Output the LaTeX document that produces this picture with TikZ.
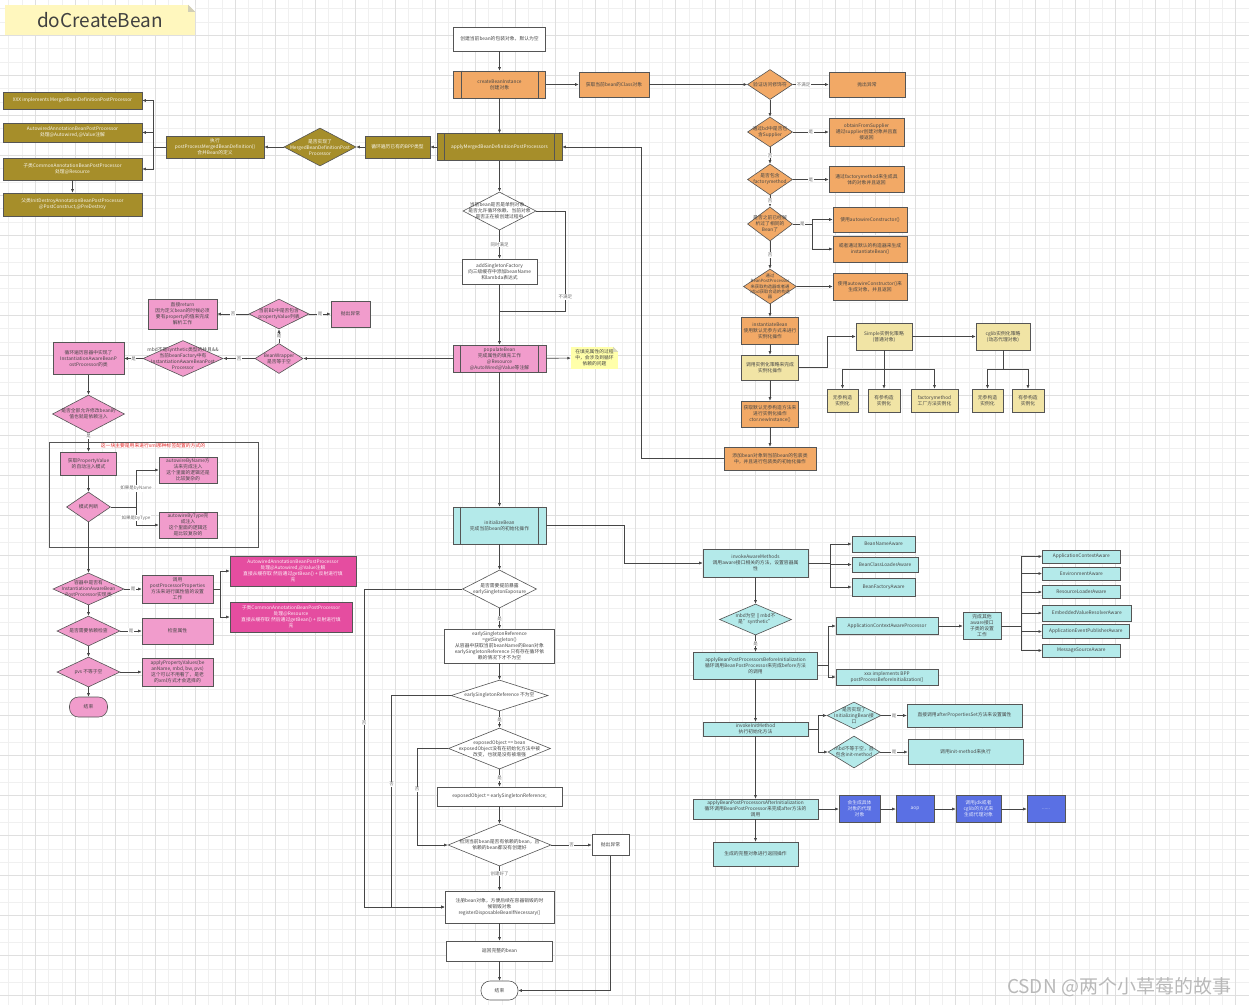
\documentclass[tikz,border=0pt]{standalone}
\usepackage{fontspec}
\setmainfont{Noto Sans CJK SC}
\XeTeXlinebreaklocale "zh"
\usetikzlibrary{shapes.geometric,arrows.meta,positioning}

\definecolor{orangeC}{RGB}{242,169,102}
\definecolor{oliveC}{RGB}{166,142,42}
\definecolor{pinkC}{RGB}{241,156,204}
\definecolor{magC}{RGB}{229,77,160}
\definecolor{yelC}{RGB}{241,228,165}
\definecolor{noteC}{RGB}{255,255,170}
\definecolor{titleC}{RGB}{255,247,190}
\definecolor{cyanC}{RGB}{180,234,234}
\definecolor{blueC}{RGB}{90,112,228}
\definecolor{borderC}{RGB}{85,85,85}
\definecolor{lineC}{RGB}{70,70,70}
\definecolor{textC}{RGB}{70,70,70}
\definecolor{labelC}{RGB}{110,110,110}
\definecolor{redC}{RGB}{230,40,40}

\begin{document}
\begin{tikzpicture}[
x=1pt,y=-1pt,
>={Latex[length=3.5pt,width=3pt]},
every node/.style={font=\fontsize{4.8}{6}\selectfont, text=textC},
box/.style={
  draw=borderC,
  line width=0.6pt,
  rectangle,
  align=center,
  inner sep=0.8pt
  },
obox/.style={box, fill=orangeC},
olbox/.style={box, fill=oliveC, text=white!92!oliveC},
pbox/.style={box, fill=pinkC},
mbox/.style={box, fill=magC, text=white!92!magC},
ybox/.style={box, fill=yelC},
cbox/.style={box, fill=cyanC},
bbox/.style={box, fill=blueC, text=white!85!blueC},
wbox/.style={box, fill=white},
notebox/.style={fill=noteC, align=center, inner sep=0.8pt},
dia/.style={diamond, draw=borderC, line width=0.6pt, inner sep=0pt},
dtext/.style={align=center, inner sep=0pt},
elab/.style={fill=white, inner sep=0.6pt, font=\fontsize{4.5}{5}\selectfont, text=labelC},
line/.style={draw=lineC, line width=0.6pt},
gridfine/.style={draw=gray!12, line width=0.3pt},
gridbold/.style={draw=gray!25, line width=0.4pt}
]
\useasboundingbox (0,0) rectangle (1249,1005);
\fill[white] (0,0) rectangle (1249,1005);
% background grid
\foreach \gx in {8.33,21.67,...,1249}
  \draw[gridfine] (\gx,0) -- (\gx,1005);
\foreach \gy in {8.33,21.67,...,1005}
  \draw[gridfine] (0,\gy) -- (1249,\gy);
\foreach \gx in {35,75,...,1249}
  \draw[gridbold] (\gx,0) -- (\gx,1005);
\foreach \gy in {35,75,...,1005}
  \draw[gridbold] (0,\gy) -- (1249,\gy);

% title
\node[fill=titleC, minimum width=190, minimum height=30, font=\fontsize{19}{22}\selectfont, text=black!75] (title) at (100,20) {doCreateBean};
\fill[white] ([xshift=-7pt]title.north east) -- (title.north east) -- ([yshift=-7pt]title.north east) -- cycle;
\fill[titleC!70!black!60] ([xshift=-7pt]title.north east) -- ([xshift=-7pt,yshift=-7pt]title.north east) -- ([yshift=-7pt]title.north east) -- cycle;

% merged bean definition (olive)
\node[olbox, minimum width=139, minimum height=17] (oXXX) at (72.5,100.5) {XXX implements MergedBeanDefinitionPostProcessor};
\node[olbox, minimum width=139, minimum height=19] (oAutowired) at (72.5,132.5) {AutowiredAnnotationBeanPostProcessor\\处理@Autowired,@Value注解};
\node[olbox, minimum width=139, minimum height=22] (oCommon) at (72.5,169) {子类CommonAnnotationBeanPostProcessor\\处理@Resource};
\node[olbox, minimum width=139, minimum height=23] (oInitDestroy) at (72.5,204.5) {父类InitDestroyAnnotationBeanPostProcessor\\@PostConstruct,@PreDestroy};
\node[olbox, minimum width=98, minimum height=22] (oExec) at (215,147) {执行\\postProcessMergedBeanDefinition()\\合并Bean的定义};
\node[dia, fill=oliveC, minimum width=72, minimum height=38] (dMerged) at (320,147) {};
\node[dtext, text=white!92!oliveC] at (dMerged) {是否实现了\\MergedBeanDefinitionPost\\Processor};
\node[olbox, minimum width=65, minimum height=22] (oLoop) at (397.5,147) {循环遍历已有的BPP类型};
\node[olbox, minimum width=125, minimum height=27] (pApplyMerged) at (499.5,147) {applyMergedBeanDefinitionPostProcessors};

% create instance (orange)
\node[wbox, minimum width=92, minimum height=24] (wWrapper) at (499.5,39) {创建当前bean的包装对象，默认为空};
\node[obox, minimum width=92, minimum height=27] (pCreate) at (499.5,84.5) {createBeanInstance\\创建对象};
\node[obox, minimum width=70, minimum height=25] (oClass) at (614,84.5) {获取当前bean的Class对象};
\node[dia, fill=orangeC, minimum width=45, minimum height=30] (dModifier) at (770,84.5) {};
\node[dtext] at (dModifier) {验证访问修饰符};
\node[obox, minimum width=76, minimum height=25] (oThrow1) at (867,84.5) {抛出异常};
\node[dia, fill=orangeC, minimum width=45, minimum height=30] (dSupplier) at (770,132) {};
\node[dtext] at (dSupplier) {通过bd中是否包\\含Supplier};
\node[obox, minimum width=75, minimum height=28] (oSupplier) at (866.5,132) {obtainFromSupplier\\通过supplier创建对象并且直\\接返回};
\node[dia, fill=orangeC, minimum width=45, minimum height=31] (dFactory) at (770,179.5) {};
\node[dtext] at (dFactory) {是否包含\\factorymethod};
\node[obox, minimum width=75, minimum height=26] (oFactory) at (866.5,179.5) {通过factorymethod来生成具\\体的对象并且返回};
\node[dia, fill=orangeC, minimum width=45, minimum height=34] (dResolved) at (770,224) {};
\node[dtext] at (dResolved) {是否之前已经解\\析过了相同的\\Bean了};
\coordinate (jResolved) at (812,224);
\node[obox, minimum width=74, minimum height=25] (oAutoCtor1) at (870,219.5) {使用autowireConstructor()};
\node[obox, minimum width=74, minimum height=26] (oInstantiate1) at (870,249) {或者通过默认的构造器来生成\\instantiateBean()};
\node[dia, fill=orangeC, minimum width=53, minimum height=35] (dBPPCtor) at (770,286.5) {};
\node[dtext, font=\fontsize{4.3}{5.4}\selectfont] at (dBPPCtor) {通过\\BeanPostProcessor\\来获取构造器或者通\\过bd获取合适的构造\\器};
\node[obox, minimum width=74, minimum height=27] (oAutoCtor2) at (870,286.5) {使用autowireConstructor()来\\生成对象，并且返回};
\node[obox, minimum width=57, minimum height=27] (oInstantiateBean) at (770,330.5) {instantiateBean\\使用默认无参方式来进行\\实例化操作};
\node[ybox, minimum width=57, minimum height=25] (yStrategy) at (770,367.5) {调用实例化策略来完成\\实例化操作};
\node[obox, minimum width=57, minimum height=26] (oCtorNew) at (770,414) {获取默认无参构造方法来\\进行实例化操作\\ctor.newInstance()};
\node[obox, minimum width=92, minimum height=23] (oWrapperInit) at (770,458.5) {添加bean对象到当前bean的包装类\\中，并且进行包装类的初始化操作};
\node[ybox, minimum width=56, minimum height=27] (ySimple) at (884,336.5) {Simple实例化策略\\(普通对象)};
\node[ybox, minimum width=54, minimum height=27] (yCglib) at (1003,336.5) {cglib实例化策略\\(动态代理对象)};
\node[ybox, minimum width=31, minimum height=23] (yNoArgS) at (842.5,400.5) {无参构造\\实例化};
\node[ybox, minimum width=32, minimum height=23] (yArgS) at (884,400.5) {有参构造\\实例化};
\node[ybox, minimum width=47, minimum height=23] (yFactoryM) at (934.5,400.5) {factorymethod\\工厂方法实例化};
\node[ybox, minimum width=31, minimum height=23] (yNoArgC) at (987.5,400.5) {无参构造\\实例化};
\node[ybox, minimum width=32, minimum height=23] (yArgC) at (1028,400.5) {有参构造\\实例化};

% early singleton + populate
\node[dia, fill=white, minimum width=73, minimum height=38] (dSingleton) at (499.5,211) {};
\node[dtext] at (dSingleton) {当前bean是否是单例对象、\\是否允许循环依赖、当前对象\\是否正在被创建过程中};
\node[wbox, minimum width=75, minimum height=25] (wAddSingleton) at (499.5,271.5) {addSingletonFactory\\向三级缓存中添加beanName\\和lambda表达式};
\coordinate (jMerge) at (499.5,311);
\node[pbox, minimum width=93, minimum height=27, inner sep=0.3pt] (pPopulate) at (499.5,358.5) {populateBean\\完成属性的填充工作\\@Resource\\@AutoWired@Value等注解};
\node[notebox, minimum width=47, minimum height=22] (yNote) at (594.5,358) {在填充属性的过程\\中，会涉及到循环\\依赖的问题};
\fill[white] ([xshift=-5pt]yNote.north east) -- (yNote.north east) -- ([yshift=-5pt]yNote.north east) -- cycle;
\fill[noteC!70!black!50] ([xshift=-5pt]yNote.north east) -- ([xshift=-5pt,yshift=-5pt]yNote.north east) -- ([yshift=-5pt]yNote.north east) -- cycle;

% populate details (pink)
\node[dia, fill=pinkC, minimum width=48, minimum height=30] (dBWNull) at (279,358.5) {};
\node[dtext] at (dBWNull) {BeanWrapper\\是否等于空};
\node[dia, fill=pinkC, minimum width=60, minimum height=30] (dPVList) at (279,314) {};
\node[dtext] at (dPVList) {当前BD中是否包含\\propertyValue列表};
\node[pbox, minimum width=39, minimum height=26] (pThrow2) at (350.5,314) {抛出异常};
\node[pbox, minimum width=69, minimum height=30] (pReturn) at (182.5,314) {直接return\\因为定义bean的时候必须\\要有property的值来完成\\解析工作};
\node[dia, fill=pinkC, minimum width=80, minimum height=36] (dSynthetic) at (183,358.5) {};
\node[dtext] at (dSynthetic) {mbd不是synthetic类型的并且\&\&\\当前beanFactory中有\\InstantiationAwareBeanPost\\Processor};
\node[pbox, minimum width=71, minimum height=32] (pLoopIABPP) at (88.5,358.5) {循环遍历容器中实现了\\InstantiationAwareBeanP\\ostProcessor的类};
\node[dia, fill=pinkC, minimum width=72, minimum height=38] (dAllowModify) at (88.5,414) {};
\node[dtext] at (dAllowModify) {是否全部允许修改bean的\\值也就是依赖注入};
\node[draw=borderC, line width=0.6pt, minimum width=209, minimum height=105] (xmlGroup) at (153.5,494.5) {};
\node[text=redC] (xmlNote) at (153,446) {这一块主要是用来进行xml那种标签配置的方式的};
\node[pbox, minimum width=56, minimum height=23] (pGetPV) at (88.5,463.5) {获取PropertyValue\\的自动注入模式};
\node[dia, fill=pinkC, minimum width=44, minimum height=30] (dMode) at (88.5,507) {};
\node[dtext] at (dMode) {模式判断};
\node[pbox, minimum width=58, minimum height=26] (pByName) at (188,470) {autowireByName方\\法来完成注入\\这个里面的逻辑还是\\比较复杂的};
\node[pbox, minimum width=58, minimum height=26] (pByType) at (188,525) {autowireByType完\\成注入\\这个里面的逻辑还\\是比较复杂的};
\coordinate (jMode) at (136,507);
\node[dia, fill=pinkC, minimum width=71, minimum height=32] (dHasIABPP) at (88.5,589) {};
\node[dtext] at (dHasIABPP) {容器中是否有\\InstantiationAwareBean\\PostProcessor实现类};
\node[pbox, minimum width=71, minimum height=28] (pPostProps) at (177.5,589) {调用\\postProcessorProperties\\方法来进行属性值的设置\\工作};
\node[mbox, minimum width=126, minimum height=30] (mAutowired) at (293,571) {AutowiredAnnotationBeanPostProcessor\\处理@Autowired,@Value注解\\直接从缓存取 然后通过getBean() + 反射进行填\\充};
\node[mbox, minimum width=122, minimum height=30] (mCommon) at (291,617) {子类CommonAnnotationBeanPostProcessor\\处理@Resource\\直接从缓存取 然后通过getBean() + 反射进行填\\充};
\node[dia, fill=pinkC, minimum width=63, minimum height=30] (dDepCheck) at (88.5,631) {};
\node[dtext] at (dDepCheck) {是否需要依赖检查};
\node[pbox, minimum width=71, minimum height=26] (pCheck) at (177.5,631) {检查属性};
\node[dia, fill=pinkC, minimum width=63, minimum height=30] (dPvs) at (88.5,672) {};
\node[dtext] at (dPvs) {pvs 不等于空};
\node[pbox, minimum width=71, minimum height=28] (pApplyPV) at (177.5,672) {applyPropertyValues(be\\anName, mbd, bw, pvs)\\这个可以不用看了，是老\\的xml方式才会选择的};
\node[pbox, rounded corners=9pt, minimum width=38, minimum height=20] (tEnd1) at (88.5,707) {结束};

% initialize + early reference (center)
\node[cbox, minimum width=93, minimum height=37] (cInit) at (499.5,525.5) {initializeBean\\完成当前bean的初始化操作};
\node[dia, fill=white, minimum width=74, minimum height=38] (dExpose) at (499.5,589) {};
\node[dtext] at (dExpose) {是否需要提前暴露\\earlySingletonExposure};
\node[wbox, minimum width=110, minimum height=34] (wEarlyRef) at (499.5,646) {earlySingletonReference\\=getSingleton()\\从容器中获取当前beanName的Bean对象\\earlySingletonReference 只有存在循环依\\赖的情况下才不为空};
\node[dia, fill=white, minimum width=97, minimum height=31] (dEarlyNotNull) at (499.5,695.5) {};
\node[dtext] at (dEarlyNotNull) {earlySingletonReference 不为空};
\node[dia, fill=white, minimum width=102, minimum height=41] (dExposedEq) at (499.5,748.5) {};
\node[dtext] at (dExposedEq) {exposedObject == bean\\exposedObject没有在初始化方法中被\\改变，也就是没有被增强};
\node[wbox, minimum width=125, minimum height=19] (wAssign) at (499.5,796.5) {exposedObject = earlySingletonReference;};
\node[dia, fill=white, minimum width=103, minimum height=42] (dDepends) at (499.5,845) {};
\node[dtext] at (dDepends) {检测当前bean是否有依赖的bean，且\\依赖的bean都没有创建好};
\node[wbox, minimum width=37, minimum height=21] (wThrow3) at (610.5,845) {抛出异常};
\node[wbox, minimum width=109, minimum height=32] (wRegister) at (499.5,907) {注册bean对象，方便后续在容器销毁的时\\候销毁对象\\registerDisposableBeanIfNecessary()};
\node[wbox, minimum width=106, minimum height=20] (wReturn) at (499.5,951) {返回完整的bean};
\node[wbox, rounded corners=9pt, minimum width=37, minimum height=19] (tEnd2) at (499.5,990.5) {结束};

% aware + init methods (cyan)
\node[cbox, minimum width=105, minimum height=28] (cAware) at (755.5,563) {invokeAwareMethods\\调用aware接口相关的方法，设置容器属\\性};
\node[cbox, minimum width=63, minimum height=16] (cBeanName) at (883.5,544) {BeanNameAware};
\node[cbox, minimum width=66, minimum height=15] (cBeanClassLoader) at (885,564.5) {BeanClassLoaderAware};
\node[cbox, minimum width=63, minimum height=18] (cBeanFactory) at (883.5,587) {BeanFactoryAware};
\node[dia, fill=cyanC, minimum width=72, minimum height=31] (dSynthetic2) at (755.5,619.5) {};
\node[dtext] at (dSynthetic2) {mbd为空 || mbd不\\是"synthetic"};
\node[cbox, minimum width=124, minimum height=27] (cBefore) at (755.5,665.5) {applyBeanPostProcessorsBeforeInitialization\\循环调用BeanPostProcessor来完成before方法\\的调用};
\node[cbox, minimum width=102, minimum height=17] (cACAP) at (887,626) {ApplicationContextAwareProcessor};
\node[cbox, minimum width=102, minimum height=16] (cXxxBPP) at (887,677) {xxx implements BPP\\postProcessBeforeInitialization()};
\node[cbox, minimum width=38, minimum height=27, inner sep=0.3pt] (cOtherAware) at (982,626) {完成其他\\aware接口\\子类的设置\\工作};
\node[cbox, anchor=west, minimum width=78, minimum height=13] (cAppCtxAware) at (1042,556.5) {ApplicationContextAware};
\node[cbox, anchor=west, minimum width=78, minimum height=13] (cEnvAware) at (1042,573.5) {EnvironmentAware};
\node[cbox, anchor=west, minimum width=78, minimum height=13] (cResLoaderAware) at (1042,592) {ResourceLoaderAware};
\node[cbox, anchor=west, minimum width=89, minimum height=16] (cEmbeddedAware) at (1042,613) {EmbeddedValueResolverAware};
\node[cbox, anchor=west, minimum width=87, minimum height=14] (cEventAware) at (1042,631.5) {ApplicationEventPublisherAware};
\node[cbox, anchor=west, minimum width=78, minimum height=13] (cMsgAware) at (1042,650.5) {MessageSourceAware};
\node[cbox, minimum width=105, minimum height=14, inner sep=0.3pt] (cInvokeInit) at (755.5,729) {invokeInitMethod\\执行初始化方法};
\node[dia, fill=cyanC, minimum width=54, minimum height=27] (dInitBean) at (854,715.5) {};
\node[dtext] at (dInitBean) {是否实现了\\InitializingBean接\\口};
\node[cbox, minimum width=115, minimum height=23] (cAfterProps) at (964.5,715.5) {直接调用afterPropertiesSet方法来设置属性};
\node[dia, fill=cyanC, minimum width=52, minimum height=32] (dInitMethod) at (854,752) {};
\node[dtext] at (dInitMethod) {mbd不等于空，且\\包含init-method};
\node[cbox, minimum width=115, minimum height=25] (cInitMethod) at (965.5,752) {调用init-method来执行};
\node[cbox, minimum width=125, minimum height=20, inner sep=0.3pt] (cAfter) at (755.5,809) {applyBeanPostProcessorsAfterInitialization\\循环调用BeanPostProcessor来完成after方法的\\调用};
\node[bbox, minimum width=41, minimum height=27] (bProxy) at (859.5,809) {会生成具体\\对象的代理\\对象};
\node[bbox, minimum width=38, minimum height=27] (bAop) at (915,809) {aop};
\node[bbox, minimum width=45, minimum height=27] (bJdk) at (978.5,809) {调用jdk或者\\cglib的方式来\\生成代理对象};
\node[bbox, minimum width=38, minimum height=27] (bMore) at (1046,809) {......};
\node[cbox, minimum width=85, minimum height=24] (cReturnObj) at (755.5,854) {生成的完整对象进行返回操作};

\node[font=\fontsize{19}{22}\selectfont, text=gray!55] (mark) at (1119,987) {CSDN @两个小草莓的故事};

% predefined-process side bars
\foreach \n in {pCreate,pApplyMerged,pPopulate,cInit}
{
  \draw[borderC, line width=0.6pt] ([xshift=8pt]\n.north west) -- ([xshift=8pt]\n.south west);
  \draw[borderC, line width=0.6pt] ([xshift=-8pt]\n.north east) -- ([xshift=-8pt]\n.south east);
}

% connectors: create instance
\draw[line,->] (wWrapper) -- (pCreate);
\draw[line,->] (pCreate) -- (pApplyMerged);
\draw[line,->] (pCreate) -- (oClass);
\draw[line,->] (oClass) -- (dModifier);
\draw[line,->] (dModifier) -- node[elab, pos=0.3]{不满足} (oThrow1);
\draw[line,->] (dModifier) -- (dSupplier);
\draw[line,->] (dSupplier) -- node[elab]{是} (oSupplier);
\draw[line,->] (dSupplier) -- node[elab]{否} (dFactory);
\draw[line,->] (dFactory) -- node[elab]{是} (oFactory);
\draw[line,->] (dFactory) -- node[elab]{否} (dResolved);
\draw[line] (dResolved) -- node[elab]{是} (jResolved);
\draw[line,->] (jResolved) |- (oAutoCtor1);
\draw[line,->] (jResolved) |- (oInstantiate1);
\draw[line,->] (dResolved) -- node[elab]{否} (dBPPCtor);
\draw[line,->] (dBPPCtor) -- (oAutoCtor2);
\draw[line,->] (dBPPCtor) -- (oInstantiateBean);
\draw[line,->] (oInstantiateBean) -- (yStrategy);
\draw[line,->] (yStrategy) -- (oCtorNew);
\draw[line,->] (oCtorNew) -- (oWrapperInit);
\draw[line,->] (yStrategy.east) -- ++(28,0) |- (ySimple.west);
\draw[line,->] (ySimple) -- (yCglib);
\draw[line] (ySimple.south) -- ++(0,19) coordinate (jSimple);
\foreach \c in {yNoArgS,yArgS,yFactoryM}
  \draw[line,->] (jSimple) -| (\c.north);
\draw[line] (yCglib.south) -- ++(0,19) coordinate (jCglib);
\foreach \c in {yNoArgC,yArgC}
  \draw[line,->] (jCglib) -| (\c.north);
\draw[line,->] (oWrapperInit.west) -- ++(-82,0) |- (pApplyMerged.east);

% connectors: merged bean definition
\draw[line,->] (pApplyMerged) -- (oLoop);
\draw[line,->] (oLoop) -- (dMerged);
\draw[line,->] (dMerged) -- (oExec);
\draw[line] (oExec.west) -- ++(-12,0) coordinate (jExec);
\foreach \c in {oXXX,oAutowired,oCommon}
  \draw[line,->] (jExec) |- (\c.east);
\draw[line,->] (oCommon) -- (oInitDestroy);

% connectors: singleton factory, populate
\draw[line,->] (pApplyMerged) -- (dSingleton);
\draw[line,->] (dSingleton) -- node[elab]{同时满足} (wAddSingleton);
\draw[line] (dSingleton.east) -- ++(29,0) |- node[elab, pos=0.43]{不满足} (jMerge);
\draw[line,->] (wAddSingleton) -- (pPopulate);
\draw[line,->] (pPopulate) -- (yNote);
\draw[line,->] (pPopulate) -- (dBWNull);
\draw[line,->] (dBWNull) -- node[elab]{是} (dPVList);
\draw[line,->] (dPVList) -- node[elab]{是} (pThrow2);
\draw[line,->] (dPVList) -- node[elab]{否} (pReturn);
\draw[line,->] (dBWNull) -- node[elab]{否} (dSynthetic);
\draw[line,->] (dSynthetic) -- node[elab]{是} (pLoopIABPP);
\draw[line,->] (pLoopIABPP) -- (dAllowModify);
\draw[line,->] (dAllowModify) -- node[elab, pos=0.15]{是} (pGetPV);
\draw[line,->] (pGetPV) -- (dMode);
\draw[line] (dMode) -- (jMode);
\draw[line,->] (jMode) |- node[elab, pos=0.25]{如果是byName} (pByName);
\draw[line,->] (jMode) |- node[elab, pos=0.3]{如果是byType} (pByType);
\draw[line,->] (dMode) -- (dHasIABPP);
\draw[line,->] (dHasIABPP) -- node[elab]{是} (pPostProps);
\draw[line] (pPostProps.east) -- ++(7,0) coordinate (jPost);
\draw[line,->] (jPost) |- (mAutowired.west);
\draw[line,->] (jPost) |- (mCommon.west);
\draw[line,->] (dHasIABPP) -- (dDepCheck);
\draw[line,->] (dDepCheck) -- node[elab]{是} (pCheck);
\draw[line,->] (dDepCheck) -- (dPvs);
\draw[line,->] (dPvs) -- (pApplyPV);
\draw[line,->] (dPvs) -- (tEnd1);

% connectors: initialize, early reference
\draw[line,->] (pPopulate) -- (cInit);
\draw[line,->] (cInit) -- (dExpose);
\draw[line,->] (dExpose) -- node[elab]{是} (wEarlyRef);
\draw[line,->] (wEarlyRef) -- (dEarlyNotNull);
\draw[line,->] (dEarlyNotNull) -- node[elab]{是} (dExposedEq);
\draw[line,->] (dExposedEq) -- node[elab]{是} (wAssign);
\draw[line,->] (wAssign) -- (dDepends);
\draw[line,->] (dDepends) -- node[elab]{否} (wThrow3);
\draw[line,->] (dDepends) -- node[elab, pos=0.3]{创建好了} (wRegister);
\draw[line,->] (wRegister) -- (wReturn);
\draw[line,->] (wReturn) -- (tEnd2);
\draw[line,->] (wThrow3) |- (tEnd2);
\draw[line,->] (dExpose.west) -- ++(-98,0) |- node[elab, pos=0.21]{否} (wRegister.west);
\draw[line,->] (dEarlyNotNull.west) -- ++(-59,0) |- node[elab, pos=0.21]{否} (wRegister.west);
\draw[line,->] (dExposedEq.west) -- ++(-31,0) |- node[elab, pos=0.21]{否} (dDepends.west);

% connectors: aware, init methods
\draw[line,->] (cInit.east) -- ++(78,0) |- (cAware.west);
\draw[line] (cAware.east) -- ++(22,0) coordinate (jAware);
\foreach \c in {cBeanName,cBeanClassLoader,cBeanFactory}
  \draw[line,->] (jAware) |- (\c.west);
\draw[line,->] (cAware) -- (dSynthetic2);
\draw[line,->] (dSynthetic2) -- node[elab]{是} (cBefore);
\draw[line] (cBefore.east) -- ++(10,0) coordinate (jBefore);
\draw[line,->] (jBefore) |- (cACAP.west);
\draw[line,->] (jBefore) |- (cXxxBPP.west);
\draw[line,->] (cACAP) -- (cOtherAware);
\draw[line] (cOtherAware.east) -- ++(20,0) coordinate (jOther);
\foreach \c in {cAppCtxAware,cEnvAware,cResLoaderAware,cEmbeddedAware,cEventAware,cMsgAware}
  \draw[line,->] (jOther) |- (\c.west);
\draw[line,->] (cBefore) -- (cInvokeInit);
\draw[line] (cInvokeInit.east) -- ++(10,0) coordinate (jInit);
\draw[line,->] (jInit) |- (dInitBean.west);
\draw[line,->] (jInit) |- (dInitMethod.west);
\draw[line,->] (dInitBean) -- node[elab]{是} (cAfterProps);
\draw[line,->] (dInitMethod) -- node[elab]{是} (cInitMethod);
\draw[line,->] (cInvokeInit) -- (cAfter);
\draw[line,->] (cAfter) -- (bProxy);
\draw[line,->] (bProxy) -- (bAop);
\draw[line,->] (bAop) -- (bJdk);
\draw[line,->] (bJdk) -- (bMore);
\draw[line,->] (cAfter) -- (cReturnObj);
\end{tikzpicture}
\end{document}
